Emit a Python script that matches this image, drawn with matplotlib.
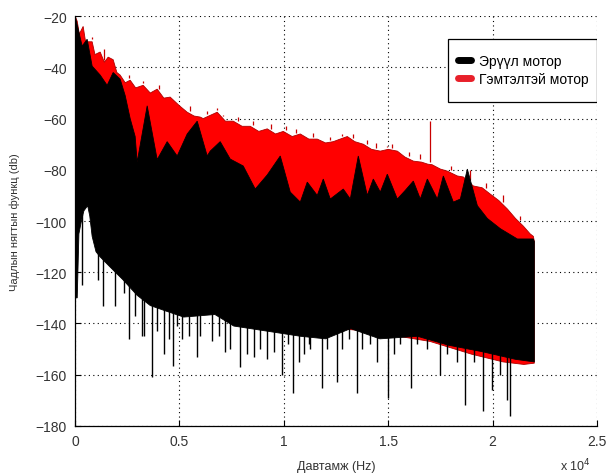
import matplotlib

matplotlib.use("Agg")
import matplotlib.pyplot as plt
from matplotlib.patches import Rectangle
import numpy as np

# spectrum envelopes, frequency in Hz, level in dB
red_top_f = [0, 100, 200, 384, 500, 815, 950, 1199, 1400, 1582, 1822, 2000, 2157, 2400,
             2637, 2900, 3260, 3600, 3931, 4250, 4554, 5000, 5369, 5700, 5993, 6136, 6400,
             6807, 7200, 7575, 8000, 8390, 8800, 9204, 9600, 9972, 10400, 10787, 11200,
             11601, 12000, 12369, 12700, 13040, 13400, 13807, 14200, 14622, 15000, 15437,
             15800, 16204, 16600, 16900, 17100, 17498, 17834, 18313, 18601, 19080, 19500,
             19895, 20300, 20710, 21100, 21477, 21800, 21957, 22000]
red_top_db = [-20, -22, -27, -24, -30, -30, -35, -34, -38, -36, -37, -42, -43, -46,
              -45, -48, -47, -50, -48.5, -52, -51.6, -55, -57.5, -59, -59.4, -60, -59,
              -57.5, -61, -61, -63, -63, -65, -64, -66, -65, -67, -66, -68,
              -68, -69.5, -69, -68, -67, -69, -70, -72, -72.7, -72, -72.7,
              -75, -76.6, -77, -77.8, -78, -79.7, -80.5, -82.4, -82.8, -86.3, -87,
              -89.5, -92, -95.3, -99, -102, -105, -106, -108]
red_low_f = [0, 600, 1200, 3000, 6000, 10000, 14000, 17000, 19000, 20500, 21500, 22000]
red_low_db = [-100, -90, -110, -125, -133, -140, -143, -147, -152, -155, -156, -155.5]

black_top_f = [0, 144, 336, 575, 815, 1199, 1534, 1822, 2157, 2397, 2637, 2876, 2972,
               3452, 3931, 4410, 4890, 5369, 5849, 6328, 6472, 6951, 7431, 8054, 8629,
               9204, 9828, 10307, 10787, 11122, 11601, 11889, 12225, 12848, 13184, 13567,
               13998, 14286, 14622, 14957, 15437, 15820, 16204, 16539, 16875, 17354,
               17642, 18121, 18457, 18792, 19272, 19751, 20375, 21189, 21957, 22000]
black_top_db = [-20, -25, -31.7, -29, -39.5, -43, -47, -42, -44.6, -51, -60, -67, -77,
                -55, -76, -69, -74.6, -66, -61, -74.6, -72.7, -69, -75.8, -78.5, -87.5,
                -82, -74.6, -88.7, -92.6, -84.8, -90, -83.6, -91.4, -87.5, -91.4, -74.6,
                -90, -83.6, -88.7, -81.7, -91.4, -88, -84.4, -91.4, -83.6, -91.4,
                -82.4, -92.6, -91.4, -79.7, -94, -99, -103, -107, -107, -108]
black_low_f = [0, 100, 180, 300, 420, 600, 700, 815, 1000, 1199, 1680, 2300, 2970, 3600,
               4300, 5200, 6700, 7600, 9200, 10800, 12000, 13200, 14600, 16400, 17900,
               19500, 21100, 22000]
black_low_db = [-130, -130, -105, -100, -96, -94, -98, -106, -112, -114, -118, -123, -129,
                -133, -135, -137.5, -136.5, -141, -143, -145, -146, -142, -146, -145,
                -148.5, -151, -154, -155]

# deep notches below the healthy-motor spectrum
dip_f = [320, 1118, 1358, 1918, 2317, 2557, 2876, 3196, 3308, 3675, 3915, 4235, 4474,
         4666, 4874, 5114, 5433, 5833, 5993, 6552, 6871, 7191, 7431, 7910, 8230, 8550,
         8869, 9189, 9509, 9908, 10180, 10435, 10707, 10978, 11186, 11266, 11826, 12066,
         12545, 12785, 13104, 13504, 13744, 14142, 14462, 14990, 15261, 15581, 16093,
         16381, 16860, 17498, 17818, 18298, 18665, 19096, 19528, 19975, 20375, 20695,
         20854, 21334, 21813]
dip_db = [-125, -123, -133, -133, -128, -146, -137, -145, -145, -161, -143, -152, -146,
          -156.5, -141, -146, -145, -153, -145, -147, -145, -151, -150, -157, -152, -153,
          -150, -154, -151, -160, -148, -167, -155, -152, -148, -150, -165, -150,
          -163, -150, -146, -167, -150, -148, -155, -169, -152, -148, -165,
          -148, -150, -160, -152, -155, -172, -155, -174, -166, -160, -170,
          -176, -153, -152]

# narrow peaks above the damaged-motor envelope
peak_f = [815, 1400, 2600, 3250, 4000, 5500, 6312, 6807, 7100, 7800, 8500, 9400, 10100,
          10600, 11400, 12200, 12800, 13300, 14000, 14400, 14957, 15200, 16000, 16500,
          17000, 18000, 18900, 19700, 20500, 21300]
peak_db = [-28, -33, -43, -45.5, -47, -55, -57, -56, -58.5, -59.5, -61, -62, -63,
           -64, -65.5, -67, -66, -66, -68.5, -69.5, -70.7, -70, -73, -74,
           -61, -78.5, -80, -85, -90, -98]

xticks = [0, 5000, 10000, 15000, 20000, 25000]
xtick_labels = ["0", "0.5", "1", "1.5", "2", "2.5"]
yticks = [-180, -160, -140, -120, -100, -80, -60, -40, -20]

plt.rcParams["font.family"] = ["Liberation Sans", "DejaVu Sans"]
text_color = "#333333"

fig = plt.figure(figsize=(6.06, 4.77), dpi=100)
ax = fig.add_axes([0.124, 0.105, 0.861, 0.859])

# damaged motor
ax.fill(np.r_[red_top_f, red_low_f[::-1]], np.r_[red_top_db, red_low_db[::-1]],
        color="#ff0000", ec="#b00000", lw=0.6, zorder=2)
ax.vlines(peak_f, np.interp(peak_f, red_top_f, red_top_db) + 1, peak_db,
          color="#c80000", lw=0.9, zorder=2)

# healthy motor
ax.fill(np.r_[black_top_f, black_low_f[::-1]], np.r_[black_top_db, black_low_db[::-1]],
        color="black", lw=0.6, zorder=3)
ax.vlines(dip_f, dip_db, np.interp(dip_f, black_low_f, black_low_db) + 2,
          color="black", lw=1.0, zorder=3)

# legend: entries without frame, box drawn separately
ax.plot([], [], color="black", lw=5, solid_capstyle="round", label="Эрүүл мотор")
ax.plot([], [], color="#e8202a", lw=5, solid_capstyle="round", label="Гэмтэлтэй мотор")
ax.legend(loc="center left", bbox_to_anchor=(0.733, 0.868), borderaxespad=0,
          frameon=False, fontsize=10, handlelength=0.95, handletextpad=0.6,
          borderpad=0, labelspacing=0.3)
ax.add_patch(Rectangle((0.715, 0.790), 0.285, 0.154, transform=ax.transAxes,
                       facecolor="white", edgecolor="black", lw=0.9, zorder=4))
ax.get_legend().set_zorder(5)

ax.set_xlim(0, 25000)
ax.set_ylim(-180, -20)
ax.set_xticks(xticks)
ax.set_xticklabels(xtick_labels)
ax.set_yticks(yticks)
ax.tick_params(direction="in", length=4, labelsize=10, labelcolor=text_color, pad=6)
ax.grid(True, color="black", linestyle=(0, (1, 3)), linewidth=0.8)
ax.set_axisbelow(True)
for side in ("top", "right"):
    ax.spines[side].set_visible(False)
for side in ("left", "bottom"):
    ax.spines[side].set_linewidth(0.9)

ax.set_xlabel("Давтамж (Hz)", fontsize=9, color=text_color)
ax.set_ylabel("Чадлын нягтын функц (db)", fontsize=8, color=text_color)
ax.xaxis.set_label_coords(0.5, -0.083)
ax.yaxis.set_label_coords(-0.105, 0.5)
ax.text(0.93, -0.095, r"x 10$^4$", transform=ax.transAxes, fontsize=9,
        color=text_color, va="center")

fig.savefig("out.png", dpi=100)
